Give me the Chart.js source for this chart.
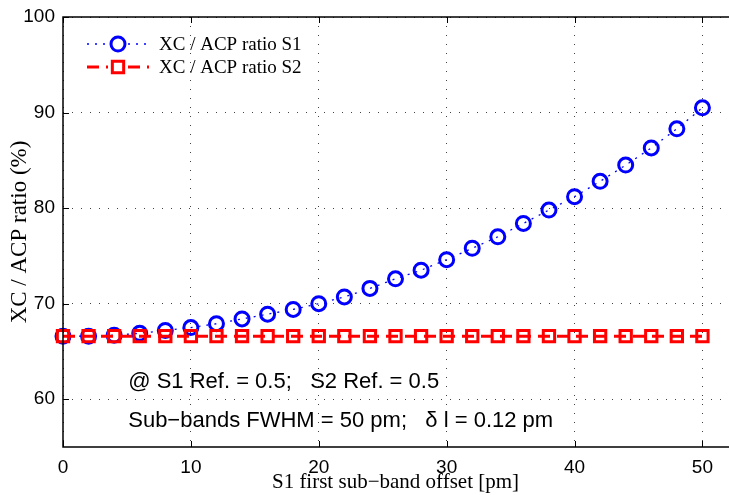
<!DOCTYPE html>
<html>
<head>
<meta charset="utf-8">
<script src="https://cdn.jsdelivr.net/npm/chart.js@4.4.1/dist/chart.umd.min.js"></script>
<style>
  html, body { margin: 0; padding: 0; background: #fff; }
  #grafico { display: block; }
</style>
</head>
<body>
<canvas id="grafico" width="729" height="495"></canvas>
<script>
// dados
const offsets = [0, 2, 4, 6, 8, 10, 12, 14, 16, 18, 20, 22, 24, 26, 28, 30, 32, 34, 36, 38, 40, 42, 44, 46, 48, 50];
const razaoS1 = [66.6, 66.6, 66.7, 66.9, 67.2, 67.5, 67.9, 68.4, 68.9, 69.4, 70.0, 70.7, 71.6, 72.6, 73.5, 74.6, 75.8, 77.0, 78.4, 79.8, 81.2, 82.8, 84.5, 86.3, 88.3, 90.5];
const razaoS2 = [66.6, 66.6, 66.6, 66.6, 66.6, 66.6, 66.6, 66.6, 66.6, 66.6, 66.6, 66.6, 66.6, 66.6, 66.6, 66.6, 66.6, 66.6, 66.6, 66.6, 66.6, 66.6, 66.6, 66.6, 66.6, 66.6];
const xTicks = [0, 10, 20, 30, 40, 50];
const yTicks = [60, 70, 80, 90, 100];
const legendas = ["XC / ACP ratio S1", "XC / ACP ratio S2"];
const notas = [
  { x: 5.1, y: 61.8, texto: "@ S1 Ref. = 0.5;   S2 Ref. = 0.5" },
  { x: 5.1, y: 57.7, texto: "Sub\u2212bands FWHM = 50 pm;   \u03b4 l = 0.12 pm" }
];

const fonteSans = "'Liberation Sans', Arial, sans-serif";
const fonteSerif = "'Liberation Serif', 'Times New Roman', serif";

// moldura e marcas internas estilo matlab
const moldura = {
  id: "moldura",
  afterDraw(chart) {
    const { ctx, chartArea: a } = chart;
    const sx = chart.scales.x, sy = chart.scales.y;
    ctx.save();
    ctx.strokeStyle = "#000";
    ctx.lineWidth = 1.5;
    ctx.setLineDash([]);
    ctx.beginPath();
    ctx.moveTo(a.right + 5, a.top);
    ctx.lineTo(a.left, a.top);
    ctx.lineTo(a.left, a.bottom);
    ctx.lineTo(a.right + 5, a.bottom);
    ctx.stroke();
    ctx.lineWidth = 1;
    ctx.beginPath();
    xTicks.forEach(v => {
      const px = Math.round(sx.getPixelForValue(v)) + 0.5;
      ctx.moveTo(px, a.bottom); ctx.lineTo(px, a.bottom - 6);
      ctx.moveTo(px, a.top); ctx.lineTo(px, a.top + 6);
    });
    yTicks.forEach(v => {
      const py = Math.round(sy.getPixelForValue(v)) + 0.5;
      ctx.moveTo(a.left, py); ctx.lineTo(a.left + 6, py);
    });
    ctx.stroke();
    ctx.restore();
  }
};

// legenda dentro do gráfico
const legendaInterna = {
  id: "legendaInterna",
  afterDatasetsDraw(chart) {
    const { ctx, chartArea: a } = chart;
    ctx.save();
    chart.data.datasets.forEach((ds, i) => {
      const y = a.top + 27 + i * 23;
      const x0 = a.left + 24, x1 = a.left + 86, xm = (x0 + x1) / 2;
      ctx.strokeStyle = ds.borderColor;
      ctx.lineWidth = ds.borderWidth;
      ctx.setLineDash(ds.borderDash || []);
      ctx.beginPath();
      ctx.moveTo(x0, y); ctx.lineTo(xm - 10, y);
      ctx.moveTo(xm + 10, y); ctx.lineTo(x1, y);
      ctx.stroke();
      ctx.setLineDash([]);
      ctx.fillStyle = "rgba(0,0,0,0)";
      ctx.strokeStyle = ds.pointBorderColor;
      ctx.lineWidth = ds.pointBorderWidth;
      Chart.helpers.drawPoint(ctx, {
        pointStyle: ds.pointStyle,
        radius: ds.pointRadius,
        borderWidth: ds.pointBorderWidth,
        rotation: 0
      }, xm, y);
      ctx.fillStyle = "#000";
      ctx.font = "19px " + fonteSerif;
      ctx.textBaseline = "middle";
      ctx.textAlign = "left";
      ctx.fillText(ds.label, x1 + 10, y + 1);
    });
    ctx.restore();
  }
};

// textos anotados
const anotacoes = {
  id: "anotacoes",
  afterDatasetsDraw(chart) {
    const { ctx } = chart;
    const sx = chart.scales.x, sy = chart.scales.y;
    ctx.save();
    ctx.fillStyle = "#000";
    ctx.font = "22px " + fonteSans;
    ctx.textBaseline = "middle";
    ctx.textAlign = "left";
    notas.forEach(n => ctx.fillText(n.texto, sx.getPixelForValue(n.x), sy.getPixelForValue(n.y)));
    ctx.restore();
  }
};

const grafico = new Chart(document.getElementById("grafico"), {
  type: "line",
  data: {
    labels: offsets,
    datasets: [
      {
        label: legendas[0],
        data: offsets.map((x, i) => ({ x: x, y: razaoS1[i] })),
        borderColor: "#0000ff",
        backgroundColor: "rgba(0,0,0,0)",
        borderWidth: 1.3,
        borderDash: [2, 6],
        pointStyle: "circle",
        pointRadius: 7,
        pointBorderWidth: 3,
        pointBorderColor: "#0000ff",
        pointBackgroundColor: "rgba(0,0,0,0)",
        tension: 0,
        clip: false,
        order: 1
      },
      {
        label: legendas[1],
        data: offsets.map((x, i) => ({ x: x, y: razaoS2[i] })),
        borderColor: "#ff0000",
        backgroundColor: "rgba(0,0,0,0)",
        borderWidth: 3,
        borderDash: [12, 7],
        pointStyle: "rect",
        pointRadius: 8,
        pointBorderWidth: 3,
        pointBorderColor: "#ff0000",
        pointBackgroundColor: "rgba(0,0,0,0)",
        tension: 0,
        clip: false,
        order: 0
      }
    ]
  },
  options: {
    responsive: false,
    animation: false,
    events: [],
    layout: { autoPadding: false, padding: { top: 17, right: 1, left: 0, bottom: 0 } },
    plugins: {
      legend: { display: false },
      tooltip: { enabled: false }
    },
    scales: {
      x: {
        type: "linear",
        min: 0,
        max: 52,
        afterBuildTicks: s => { s.ticks = xTicks.map(v => ({ value: v })); },
        afterFit: s => { s.height = 48; s.paddingRight = 0; s.paddingLeft = 0; },
        grid: { color: "#444", lineWidth: 1, drawTicks: false },
        border: { display: false, dash: [1, 8] },
        ticks: { color: "#000", font: { family: fonteSans, size: 19 }, padding: 9, maxRotation: 0 },
        title: {
          display: true,
          text: "S1 first sub\u2212band offset [pm]",
          color: "#000",
          font: { family: fonteSerif, size: 21 },
          padding: { top: 0, bottom: 0 }
        }
      },
      y: {
        type: "linear",
        min: 55,
        max: 100,
        afterBuildTicks: s => { s.ticks = yTicks.map(v => ({ value: v })); },
        afterFit: s => { s.width = 63; s.paddingTop = 0; s.paddingBottom = 0; },
        grid: { color: "#444", lineWidth: 1, drawTicks: false },
        border: { display: false, dash: [1, 8] },
        ticks: { color: "#000", font: { family: fonteSans, size: 19 }, padding: 8 },
        title: {
          display: true,
          text: "XC / ACP ratio (%)",
          color: "#000",
          font: { family: fonteSerif, size: 23 },
          padding: { top: 6, bottom: 0 }
        }
      }
    }
  },
  plugins: [moldura, legendaInterna, anotacoes]
});
</script>
</body>
</html>
